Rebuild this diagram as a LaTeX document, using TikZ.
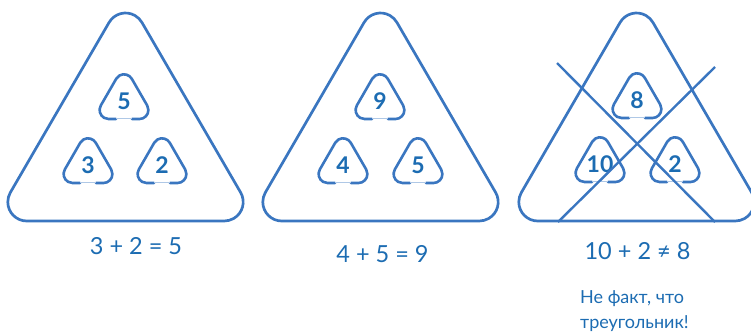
\documentclass[tikz,border=0pt]{standalone}
\usepackage{fontspec}
\setmainfont{Lato}
\definecolor{lineblue}{RGB}{58,118,192}
\definecolor{lightline}{RGB}{175,200,230}
\definecolor{textblue}{RGB}{28,108,178}
\tikzset{
  outline/.style={draw=lineblue, line width=2.7pt, line join=round},
  innerline/.style={draw=lineblue, line width=2.6pt, line cap=round, line join=round},
  gapline/.style={draw=lightline, line width=1.2pt},
  digit/.style={text=textblue, font=\fontsize{23}{26}\selectfont\bfseries, inner sep=0pt},
  eqtext/.style={text=textblue, font=\fontsize{23.5}{28}\selectfont, inner sep=0pt},
  notetext/.style={text=textblue, font=\fontsize{18}{25}\selectfont, inner sep=0pt, align=left},
  crossline/.style={draw=lineblue, line width=2.4pt}
}
% big rounded triangle, corner radius 19, centred at x=#1
\newcommand\bigtri[1]{%
  \draw[outline] (#1-16.45,22.5) arc[start angle=210,end angle=330,radius=19]
    -- (#1+115.15,192.5) arc[start angle=-30,end angle=90,radius=19]
    -- (#1-98.7,221) arc[start angle=90,end angle=210,radius=19] -- cycle;
}
% small rounded triangle: name, cx, base y, label
\newcommand\smalltri[4]{%
  \draw[innerline] (#2+8,#3) -- (#2+15.41,#3) arc[start angle=90,end angle=-30,radius=9]
    -- (#2+7.79,#3-40.2) arc[start angle=-30,end angle=-150,radius=9]
    -- (#2-23.2,#3-13.5) arc[start angle=210,end angle=90,radius=9] -- (#2-8,#3);
  \draw[gapline] (#2-8,#3-0.5) -- (#2+8,#3-0.5);
  \node[digit] (#1) at (#2,#3-17.5) {#4};
}
\begin{document}
\begin{tikzpicture}[x=1pt,y=-1pt]
\useasboundingbox (0,0) rectangle (751,333);
\begin{scope}
\clip (0,0) rectangle (751,333);
% triangle 1
\bigtri{125.5}
\smalltri{aTop}{124}{119}{5}
\smalltri{aLeft}{88}{183}{3}
\smalltri{aRight}{162}{183}{2}
% triangle 2
\bigtri{380.5}
\smalltri{bTop}{380}{119}{9}
\smalltri{bLeft}{343}{183}{4}
\smalltri{bRight}{418}{183}{5}
% triangle 3
\bigtri{636.5}
\smalltri{cTop}{637}{118}{8}
\smalltri{cLeft}{600}{182}{10}
\smalltri{cRight}{675}{182}{2}
% cross
\coordinate (x1a) at (557,63);
\coordinate (x1b) at (715,222);
\coordinate (x2a) at (715,67);
\coordinate (x2b) at (558,222);
\draw[crossline] (x1a) -- (x1b);
\draw[crossline] (x2a) -- (x2b);
\end{scope}
% equations
\node[eqtext] (eq1) at (136,246.5) {3 + 2 = 5};
\node[eqtext] (eq2) at (382.5,254) {4 + 5 = 9};
\node[eqtext] (eq3) at (637.5,251.5) {10 + 2 ≠ 8};
\node[notetext, anchor=base west] (note) at (580,328) {Не факт, что\\треугольник!};
\end{tikzpicture}
\end{document}
